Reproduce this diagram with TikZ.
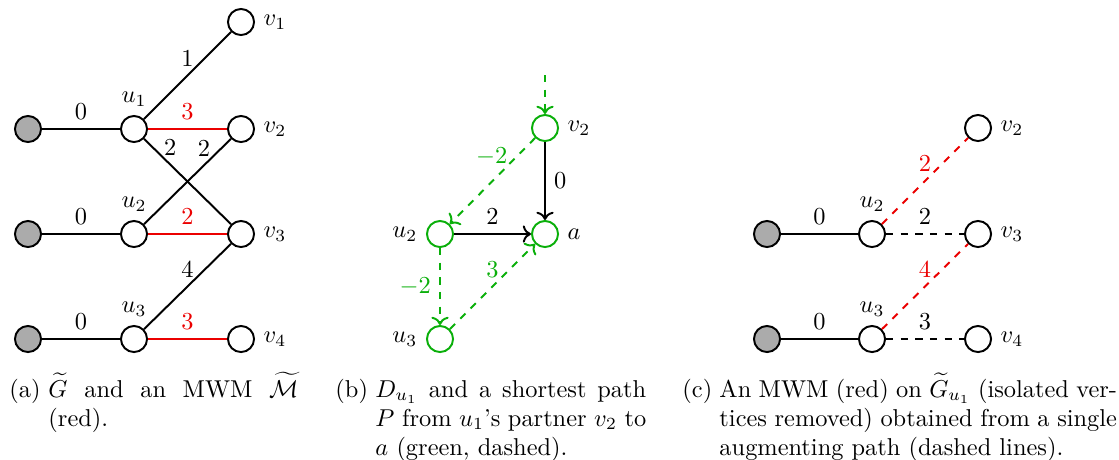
\documentclass[tikz,border=0pt]{standalone}
\usetikzlibrary{arrows.meta}
\definecolor{myred}{RGB}{235,0,0}
\definecolor{mygreen}{RGB}{10,175,10}
\begin{document}
\begin{tikzpicture}[x=0.41pt,y=-0.41pt,
  vtx/.style={circle,draw,thick,minimum size=10.7pt,inner sep=0pt,fill=white},
  src/.style={vtx,fill=black!33},
  gvtx/.style={vtx,draw=mygreen},
  edge/.style={thick},
  medge/.style={thick,myred},
  gdash/.style={thick,dashed,mygreen,->},
  barr/.style={thick,->},
  caplabel/.style={anchor=base west,inner sep=0pt},
  captext/.style={anchor=base west,inner sep=0pt,align=justify}
]
\useasboundingbox (0,0) rectangle (1119,459);

% ---------- (a) ----------
\node[src] (ag1) at (28,129) {};
\node[src] (ag2) at (28,234) {};
\node[src] (ag3) at (28,339) {};
\node[vtx,label=above:$u_1$] (au1) at (134,129) {};
\node[vtx,label=above:$u_2$] (au2) at (134,234) {};
\node[vtx,label=above:$u_3$] (au3) at (134,339) {};
\node[vtx,label=right:$v_1$] (av1) at (241,22) {};
\node[vtx,label=right:$v_2$] (av2) at (241,129) {};
\node[vtx,label=right:$v_3$] (av3) at (241,234) {};
\node[vtx,label=right:$v_4$] (av4) at (241,339) {};
\draw[edge] (ag1) -- node[above]{$0$} (au1);
\draw[edge] (ag2) -- node[above]{$0$} (au2);
\draw[edge] (ag3) -- node[above]{$0$} (au3);
\draw[edge] (au1) -- node[above]{$1$} (av1);
\draw[medge] (au1) -- node[above]{$3$} (av2);
\draw[edge] (au1) -- node[pos=0.3,above]{$2$} (av3);
\draw[edge] (au2) -- node[pos=0.69,above]{$2$} (av2);
\draw[medge] (au2) -- node[above]{$2$} (av3);
\draw[edge] (au3) -- node[above]{$4$} (av3);
\draw[medge] (au3) -- node[above]{$3$} (av4);

% ---------- (b) ----------
\node[gvtx,label=right:$v_2$] (bv2) at (545,128) {};
\node[gvtx,label=right:$a$] (ba) at (545,234) {};
\node[gvtx,label=left:$u_2$] (bu2) at (440,234) {};
\node[gvtx,label=left:$u_3$] (bu3) at (440,339) {};
\coordinate (bin) at (545,75);
\draw[gdash] (bin) -- (bv2);
\draw[barr] (bv2) -- node[right]{$0$} (ba);
\draw[barr] (bu2) -- node[above]{$2$} (ba);
\draw[gdash] (bv2) -- node[pos=0.22,left,text=mygreen]{$-2$} (bu2);
\draw[gdash] (bu2) -- node[left,text=mygreen]{$-2$} (bu3);
\draw[gdash] (bu3) -- node[above,text=mygreen]{$3$} (ba);

% ---------- (c) ----------
\node[src] (cg2) at (767,234) {};
\node[src] (cg3) at (767,339) {};
\node[vtx,label=above:$u_2$] (cu2) at (872,234) {};
\node[vtx,label=above:$u_3$] (cu3) at (872,339) {};
\node[vtx,label=right:$v_2$] (cv2) at (978,128) {};
\node[vtx,label=right:$v_3$] (cv3) at (978,234) {};
\node[vtx,label=right:$v_4$] (cv4) at (978,339) {};
\draw[edge] (cg2) -- node[above]{$0$} (cu2);
\draw[edge] (cg3) -- node[above]{$0$} (cu3);
\draw[edge,dashed] (cu2) -- node[above]{$2$} (cv3);
\draw[edge,dashed] (cu3) -- node[above]{$3$} (cv4);
\draw[medge,dashed] (cu2) -- node[above]{$2$} (cv2);
\draw[medge,dashed] (cu3) -- node[above]{$4$} (cv3);

% ---------- captions ----------
\node[caplabel] (capa) at (9,397) {(a)};
\node[captext,text width=102.5pt] (capat) at (48,397)
  {$\widetilde{G}$ and an MWM $\widetilde{\mathcal{M}}$ (red).};
\node[caplabel] (capb) at (335,397) {(b)};
\node[captext,text width=111pt] (capbt) at (375,397)
  {$D_{u_1}$ and a shortest path $P$ from $u_1$'s partner $v_2$ to $a$ (green, dashed).};
\node[caplabel] (capc) at (682,397) {(c)};
\node[captext,text width=163pt] (capct) at (719,397)
  {An MWM (red) on $\widetilde{G}_{u_1}$ (isolated vertices removed) obtained from a single augmenting path (dashed lines).};
\end{tikzpicture}
\end{document}
